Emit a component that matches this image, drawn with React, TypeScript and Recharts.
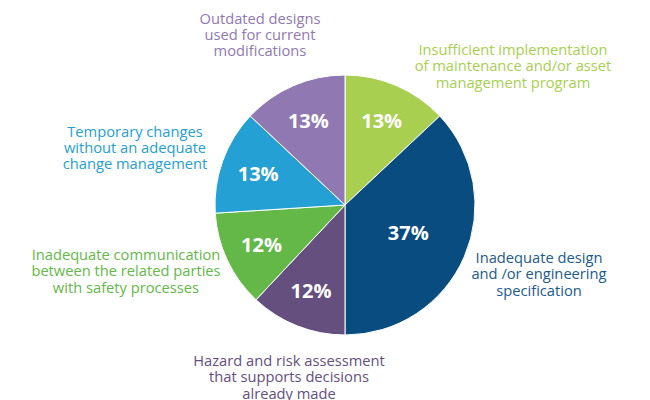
import React from 'react';
import { PieChart, Pie, Cell } from 'recharts';

const categories: string[][] = [
  ['Insufficient implementation', 'of maintenance and/or asset', 'management program'],
  ['Inadequate design', 'and /or engineering', 'specification'],
  ['Hazard and risk assessment', 'that supports decisions', 'already made'],
  ['Inadequate communication', 'between the related parties', 'with safety processes'],
  ['Temporary changes', 'without an adequate', 'change management'],
  ['Outdated designs', 'used for current', 'modifications'],
];
const values: number[] = [13, 37, 12, 12, 13, 13];

const sliceColors = ['#A8CF4F', '#084C80', '#644F7F', '#63B848', '#24A0D4', '#9079B2'];
const textColors = ['#A8CF4F', '#1B5A8E', '#644F7F', '#63B848', '#24A0D4', '#9079B2'];
// offsets (dx, dy) of first line centre of each category label, relative to pie centre
const labelOffsets: [number, number][] = [
  [168, -155],
  [194, 53],
  [-56, 156],
  [-219, 50],
  [-210, -73.5],
  [-85, -186.5],
];
const LINE_H = 16.4;
const RAD = Math.PI / 180;

const data = categories.map((c, i) => ({ name: c.join(' '), value: values[i] }));

const font = '"Open Sans", "Noto Sans", sans-serif';

const renderLabel = (props: any) => {
  const { cx, cy, midAngle, outerRadius, percent, index } = props;
  const r = outerRadius * (percent > 0.3 ? 0.53 : 0.71);
  const x = cx + r * Math.cos(-midAngle * RAD);
  const y = cy + r * Math.sin(-midAngle * RAD);
  const [dx, dy] = labelOffsets[index];
  return (
    <g>
      <text
        x={x}
        y={y}
        fill="#FFFFFF"
        textAnchor="middle"
        dominantBaseline="central"
        fontFamily={font}
        fontWeight={700}
        fontSize={20}
      >
        {`${values[index]}%`}
      </text>
      <text
        x={cx + dx}
        y={cy + dy + 5}
        fill={textColors[index]}
        textAnchor="middle"
        fontFamily={font}
        fontSize={14.7}
      >
        {categories[index].map((line, k) => (
          <tspan key={k} x={cx + dx} dy={k === 0 ? 0 : LINE_H}>
            {line}
          </tspan>
        ))}
      </text>
    </g>
  );
};

export default function App() {
  return (
    <div style={{ position: 'absolute', left: 0, top: 0, width: 650, height: 400, background: '#fff' }}>
      <PieChart width={650} height={400} margin={{ top: 0, right: 0, bottom: 0, left: 0 }}>
        <Pie
          data={data}
          dataKey="value"
          nameKey="name"
          cx={345}
          cy={205}
          outerRadius={130}
          startAngle={90}
          endAngle={-270}
          stroke="#FFFFFF"
          strokeWidth={1}
          label={renderLabel}
          labelLine={false}
          isAnimationActive={false}
        >
          {data.map((_, i) => (
            <Cell key={i} fill={sliceColors[i]} />
          ))}
        </Pie>
      </PieChart>
    </div>
  );
}
